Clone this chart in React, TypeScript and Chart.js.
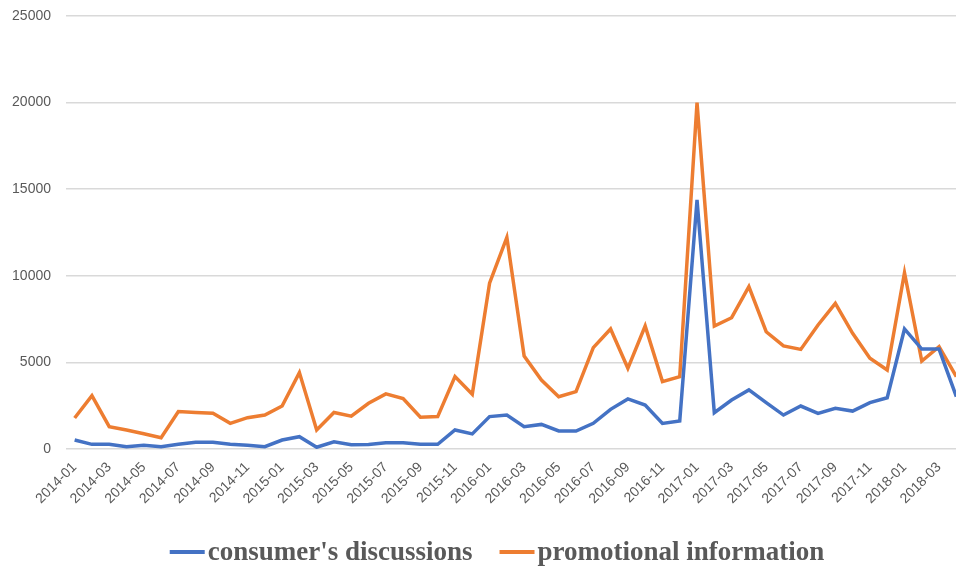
import React, { useEffect, useRef } from "react";
import { Chart, registerables } from "chart.js";

Chart.register(...registerables);

const months: string[] = [];
for (let y = 2014; y <= 2018; y++) {
  for (let m = 1; m <= 12; m++) {
    if (y === 2018 && m > 4) break;
    months.push(`${y}-${String(m).padStart(2, "0")}`);
  }
}

const consumerDiscussions = [
  520, 270, 270, 135, 210, 135, 270, 385, 385, 270, 210, 135,
  520, 710, 100, 420, 245, 260, 365, 365, 270, 270, 1100, 870,
  1870, 1960, 1290, 1420, 1040, 1040, 1480, 2290, 2890, 2540, 1480, 1620,
  14380, 2100, 2830, 3410, 2680, 1960, 2480, 2060, 2350, 2190, 2680, 2960,
  6930, 5770, 5770, 3020,
];

const promotionalInformation = [
  1790, 3080, 1290, 1100, 880, 650, 2160, 2110, 2060, 1480, 1810, 1960,
  2480, 4410, 1100, 2110, 1900, 2640, 3180, 2910, 1830, 1870, 4180, 3160,
  9570, 12220, 5370, 3980, 3020, 3310, 5850, 6930, 4660, 7100, 3890, 4180,
  20000, 7100, 7580, 9370, 6770, 5950, 5750, 7160, 8410, 6680, 5240, 4560,
  10180, 5080, 5910, 4180,
];

const seriesNames = ["consumer's discussions", "promotional information"];
const seriesColors = ["#4472C4", "#ED7D31"];

const legendPlugin = {
  id: "customLegend",
  afterDraw(chart: any) {
    const ctx = chart.ctx as CanvasRenderingContext2D;
    ctx.save();
    ctx.font = "bold 27px 'Liberation Serif'";
    ctx.textBaseline = "middle";
    ctx.fillStyle = "#595959";
    const markerW = 35;
    const gap = 3;
    const itemGap = 27;
    const widths = seriesNames.map((n) => ctx.measureText(n).width);
    const total = widths.reduce((a, w) => a + markerW + gap + w, 0) + itemGap * (seriesNames.length - 1);
    let x = 497 - total / 2;
    const y = 553;
    seriesNames.forEach((n, i) => {
      ctx.strokeStyle = seriesColors[i];
      ctx.lineWidth = 4;
      ctx.beginPath();
      ctx.moveTo(x, y - 1);
      ctx.lineTo(x + markerW, y - 1);
      ctx.stroke();
      x += markerW + gap;
      ctx.fillText(n, x, y);
      x += widths[i] + itemGap;
    });
    ctx.restore();
  },
};

export default function App() {
  const ref = useRef<HTMLCanvasElement | null>(null);
  useEffect(() => {
    if (!ref.current) return;
    const chart = new Chart(ref.current, {
      type: "line",
      data: {
        labels: months,
        datasets: [
          {
            label: seriesNames[0],
            data: consumerDiscussions,
            borderColor: seriesColors[0],
            backgroundColor: seriesColors[0],
            borderWidth: 3.5,
            pointRadius: 0,
            tension: 0,
          },
          {
            label: seriesNames[1],
            data: promotionalInformation,
            borderColor: seriesColors[1],
            backgroundColor: seriesColors[1],
            borderWidth: 3.5,
            pointRadius: 0,
            tension: 0,
          },
        ],
      },
      plugins: [legendPlugin],
      options: {
        animation: false,
        responsive: false,
        maintainAspectRatio: false,
        layout: { padding: { top: 16, left: 0, right: 0, bottom: 0 } },
        plugins: {
          tooltip: { enabled: false },
          legend: { display: false },
        },
        scales: {
          x: {
            offset: true,
            grid: { display: false, drawTicks: false },
            border: { display: false },
            afterFit: (scale: any) => {
              scale.height = 120;
              scale.paddingLeft = 0;
              scale.paddingRight = 0;
            },
            ticks: {
              autoSkip: false,
              maxRotation: 45,
              minRotation: 45,
              padding: 10,
              color: "#595959",
              font: { family: "Liberation Sans", size: 14 },
              callback: (_v: any, i: number) => (i % 2 === 0 ? months[i] : ""),
            },
          },
          y: {
            min: 0,
            max: 25000,
            afterFit: (scale: any) => {
              scale.width = 66;
              scale.paddingTop = 0;
              scale.paddingBottom = 0;
            },
            ticks: {
              stepSize: 5000,
              padding: 15,
              color: "#595959",
              font: { family: "Liberation Sans", size: 14 },
              callback: (v: any) => String(v),
            },
            grid: { color: "#d9d9d9", lineWidth: 1.5, drawTicks: false },
            border: { display: false },
          },
        },
      },
    });
    return () => chart.destroy();
  }, []);
  return (
    <div style={{ position: "fixed", left: 0, top: 0, width: 965, height: 569, background: "#fff" }}>
      <canvas ref={ref} width={965} height={569} style={{ display: "block" }} />
    </div>
  );
}
